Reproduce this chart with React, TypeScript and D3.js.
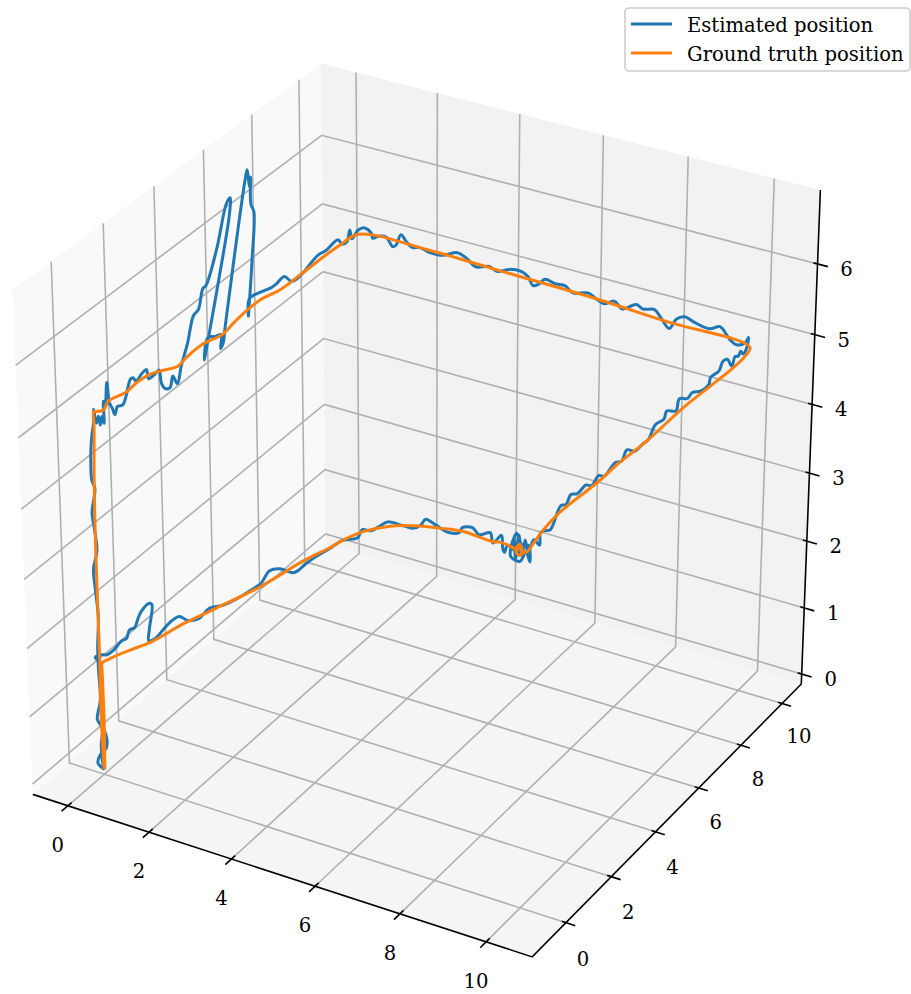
import React from 'react';
import * as d3 from 'd3';

type P3 = [number, number, number];

const WIDTH = 911;
const HEIGHT = 994;

const xTicks = [0, 2, 4, 6, 8, 10];
const yTicks = [0, 2, 4, 6, 8, 10];
const zTicks = [0, 1, 2, 3, 4, 5, 6];
const xLim: [number, number] = [-0.872, 11.06];
const yLim: [number, number] = [-1.457, 10.95];
const zLim: [number, number] = [-0.152, 7.03];
const seriesNames = ['Estimated position', 'Ground truth position'];

// estimated position, one block per leg of the flight
const estX = [
  -0.02, -0.15, -0.08, 0.07, 0.07, -0.06, -0.13, -0.04, -0.06, -0.06, -0.02, -0.07, -0.1, 0, -0.05, -0.09, 0, -0.07, -0.07, -0.03, 0.03,
  0.0, 0.01, 0.01, 0.01, 0.01, 0.02, 0.02, 0.02, 0.02, 0.03,
  0.03, 0.03, 0.04, 0.05, 0.05, 0.06, 0.06, 0.07, 0.08, 0.08,
  0.09, 0.1, 0.1, 0.11, 0.11, 0.12, 0.12, 0.13, 0.14, 0.15,
  0.16, 0.17, 0.17, 0.18, 0.2, 0.21, 0.22, 0.22, 0.2, 0.17,
  0.18, 0.19, 0.2, 0.2, 0.2, 0.21, 0.24, 0.24, 0.25, 0.25,
  0.25, 0.26, 0.25, 0.25, 0.25, 0.26, 0.28, 0.29, 0.31, 0.32,
  0.33, 0.34, 0.36, 0.38, 0.4, 0.4, 0.41, 0.42, 0.42, 0.43,
  0.6, 0.76, 0.8, 0.93, 1.14, 1.3, 1.39, 1.51, 1.64, 1.79,
  1.97, 2.22, 2.55, 2.92, 3.13, 3.38, 3.71, 3.92, 4.21, 4.5,
  4.67, 4.79, 4.92, 5.08, 5.33, 5.57, 5.77, 6.13, 6.33, 6.53,
  6.77, 6.97, 7.3, 7.46, 7.74, 7.9, 8.1, 8.26, 8.46, 8.7,
  9.06, 9.3, 9.54, 9.7, 9.9, 9.98,
  10.0, 9.99, 9.99, 9.99, 9.99, 9.99, 9.99, 9.99, 9.99, 9.98,
  9.98, 9.98, 9.97, 9.97, 9.97, 9.97, 9.96, 9.96, 9.96, 9.95,
  9.95, 9.95, 9.95, 9.94, 9.94, 9.94, 9.93, 9.93, 9.93, 9.92,
  9.92, 9.92, 9.92, 9.91, 9.91, 9.91, 9.91, 9.91,
  10.1, 10.03, 9.96, 9.89, 9.82, 9.78, 9.71, 9.92, 10.05, 10.14,
  10.1, 9.96, 9.84, 9.76, 9.92, 9.78, 9.64, 9.57, 9.53, 9.5,
  9.31, 9.25, 9.0, 8.85, 8.62, 8.55, 8.32, 8.02, 7.79, 7.68,
  7.52, 7.3, 6.92, 6.76, 6.53, 6.34, 6.23, 5.88, 5.57, 5.23,
  5.0, 4.83, 4.71, 4.4, 4.16, 3.95, 3.83, 3.35, 3.02, 2.7,
  2.45, 2.17, 1.97, 1.72, 1.35, 1.21, 1.23, 1.31, 1.25, 1.04,
  0.95, 0.87, 0.74, 0.66, 0.53, 0.32, 0.16, 0.04, -0.13, -0.01,
  -0.01, 0.03, -0.05, -0.04, 0,
];

const estY = [
  0, 0, 0, 0, 0, 0, 0, 0, 0, 0, 0, 0, 0, 0, 0, 0, 0, 0, 0, 0, 0,
  0.05, 0.12, 0.21, 0.27, 0.34, 0.4, 0.4, 0.46, 0.55, 0.61,
  0.71, 0.81, 0.9, 1.09, 1.21, 1.4, 1.5, 1.59, 1.84, 2.0,
  2.05, 2.27, 2.46, 2.52, 2.65, 2.84, 2.96, 3.12, 3.27, 3.53,
  3.77, 3.96, 4.15, 4.27, 4.7, 5.1, 5.24, 5.2, 4.73, 4.15,
  4.3, 4.59, 4.8, 4.77, 4.88, 4.96, 5.85, 5.92, 5.98, 6.03,
  6.03, 6.13, 6.04, 5.85, 5.91, 6.28, 6.75, 6.94, 7.27, 7.54,
  7.74, 8.07, 8.6, 8.93, 9.42, 9.59, 9.79, 9.9, 9.99, 10.25,
  10.24, 10.24, 10.24, 10.24, 10.23, 10.23, 10.22, 10.22, 10.22, 10.21,
  10.21, 10.2, 10.19, 10.18, 10.18, 10.17, 10.16, 10.16, 10.15, 10.14,
  10.14, 10.14, 10.13, 10.13, 10.12, 10.12, 10.11, 10.1, 10.1, 10.09,
  10.08, 10.08, 10.07, 10.07, 10.06, 10.05, 10.05, 10.05, 10.04, 10.03,
  10.02, 10.02, 10.01, 10.01, 10.0, 10.0,
  9.85, 9.74, 9.62, 9.51, 9.36, 9.21, 8.99, 8.78, 8.61, 8.24,
  8.16, 7.79, 7.42, 7.19, 6.82, 6.67, 6.27, 6.15, 5.77, 5.47,
  5.24, 4.87, 4.52, 4.31, 4.03, 3.54, 3.33, 3.01, 2.77, 2.42,
  2.14, 1.93, 1.71, 1.29, 1.08, 0.87, 0.84, 0.59,
  0, 0, 0, 0, 0, 0, 0, 0, 0, 0,
  0, 0, 0, 0, 0, 0, 0, 0, 0, 0,
  0, 0, 0, 0, 0, 0, 0, 0, 0, 0,
  0, 0, 0, 0, 0, 0, 0, 0, 0, 0,
  0, 0, 0, 0, 0, 0, 0, 0, 0, 0,
  0, 0, 0, 0, 0, 0, 0, 0, 0, 0,
  0, 0, 0, 0, 0, 0, 0, 0, 0, 0,
  0, 0, 0, 0, 0,
];

const estZ = [
  -0.07, -0.01, 0.13, 0.25, 0.46, 0.58, 0.65, 0.94, 1.43, 1.73, 2.17, 2.56, 2.85, 3.13, 3.46, 3.66, 4.02, 4.13, 4.52, 4.77, 4.99,
  5.12, 4.91, 4.98, 4.84, 4.94, 4.83, 5.14, 5.07, 5.36, 5.06,
  4.96, 4.84, 4.93, 4.9, 4.97, 5.18, 5.17, 5.1, 5.15, 5.15,
  5.01, 5.01, 5.02, 4.82, 4.71, 4.67, 4.8, 4.65, 4.86, 5.12,
  5.44, 5.48, 5.72, 5.74, 6.15, 6.67, 6.72, 6.5, 5.66, 4.71,
  4.99, 4.93, 4.9, 4.71, 4.76, 4.98, 6.86, 6.94, 6.69, 6.81,
  6.43, 6.3, 5.65, 4.89, 5.13, 5.11, 5.06, 5.06, 5.09, 4.95,
  4.93, 4.96, 5.05, 5.04, 5.07, 4.96, 4.95, 5.09, 4.94, 5.0,
  5.06, 5.01, 4.94, 4.99, 5.01, 4.9, 4.94, 5.11, 5.03, 4.97,
  5.0, 4.97, 4.98, 5.08, 5.04, 4.95, 5.01, 4.97, 5.05, 5.07,
  5.02, 4.91, 4.95, 5.05, 5.03, 5.04, 4.97, 5.03, 4.98, 4.94,
  5.02, 4.94, 5.06, 5.02, 5.06, 4.97, 4.85, 5.01, 5.08, 5.04,
  5.01, 5.08, 4.94, 4.89, 4.95, 5.04,
  4.91, 4.88, 4.95, 4.91, 4.95, 4.85, 5.01, 5.04, 4.95, 4.96,
  4.88, 4.89, 4.97, 4.95, 5.05, 4.92, 5.03, 4.95, 4.98, 4.85,
  4.86, 4.86, 4.98, 4.88, 4.94, 4.89, 4.96, 4.91, 4.99, 4.97,
  5.04, 4.96, 5.01, 4.8, 4.85, 4.88, 4.72, 4.87,
  4.89, 5.06, 4.83, 5.1, 4.77, 5.04, 4.78, 4.75, 4.9, 4.78,
  5.0, 4.98, 5.12, 4.94, 4.87, 4.88, 4.92, 4.81, 4.86, 5.03,
  4.89, 5.02, 4.95, 5.02, 4.98, 4.9, 4.86, 4.91, 4.95, 4.85,
  4.78, 4.77, 4.76, 4.68, 4.57, 4.55, 4.42, 4.32, 4.15, 3.97,
  3.83, 3.71, 3.66, 3.66, 3.59, 3.37, 3.3, 3.04, 2.89, 2.79,
  2.6, 2.52, 2.54, 2.4, 2.1, 2.05, 2.22, 2.59, 2.6, 2.44,
  2.31, 2.18, 2.12, 1.98, 1.92, 1.74, 1.65, 1.63, 1.56, 1.49,
  1.09, 0.65, 0.28, 0.06, -0.06,
];

// ground truth position
const truthX = [
  0, -0.03, -0.02, -0.03, -0.01, 0.03,
  0, 0.01, 0.02, 0.02, 0.05, 0.07, 0.09, 0.11, 0.13, 0.15, 0.17, 0.2, 0.22, 0.24, 0.27, 0.3, 0.33, 0.37, 0.4, 0.43,
  2.22, 3.96, 6.41, 8.02, 10.02,
  10.0, 9.99, 9.99, 9.97, 9.95, 9.94, 9.93, 9.92, 9.91, 9.9, 9.9,
  9.96, 9.9, 9.84, 9.93, 9.96, 9.9, 9.82, 9.85, 9.69, 9.46, 9.31, 8.62, 8.09, 7.64, 7.11, 6.72, 6.34, 5.96, 5.57, 4.96, 3.91, 2.86, 2.08, 1.26, 0.77, 0.3, 0.03,
  0.03, 0.04, 0.02,
];

const truthY = [
  0, 0, 0, 0, 0, 0,
  0.05, 0.12, 0.4, 0.59, 1.21, 1.65, 2.15, 2.65, 3.15, 3.46, 4.09, 4.84, 5.29, 5.75, 6.35, 7.14, 7.94, 8.86, 9.52, 10.25,
  10.2, 10.16, 10.09, 10.05, 10.0,
  9.82, 9.29, 8.54, 7.04, 5.39, 4.1, 3.33, 1.64, 0.94, 0.45, 0.31,
  0, 0, 0, 0, 0, 0, 0, 0, 0, 0, 0, 0, 0, 0, 0, 0, 0, 0, 0, 0, 0, 0, 0, 0, 0, 0, 0, 0,
  0, 0, 0,
];

const truthZ = [
  -0.05, 0.7, 1.5, 3.1, 4.2, 4.9,
  5.09, 5.07, 5.02, 5.09, 5.04, 5.07, 5.05, 4.97, 4.89, 4.93, 4.95, 4.89, 4.94, 4.98, 5.0, 4.94, 4.95, 4.97, 4.97, 4.94,
  5.0, 4.99, 4.98, 4.94, 4.91,
  4.83, 4.81, 4.83, 4.87, 4.85, 4.89, 4.88, 4.93, 4.88, 4.79, 4.78,
  4.88, 4.95, 4.85, 4.83, 4.93, 4.98, 4.88, 4.88, 4.92, 4.93, 4.91, 4.93, 4.88, 4.83, 4.74, 4.64, 4.52, 4.36, 4.16, 3.87, 3.31, 2.82, 2.46, 2.04, 1.84, 1.64, 1.5,
  1.42, 0.7, -0.05,
];

// default mplot3d camera: elev 30, azim -60, dist 10, unit cube stretched to the axes
const normX = d3.scaleLinear().domain(xLim).range([-0.5, 0.5]);
const normY = d3.scaleLinear().domain(yLim).range([-0.5, 0.5]);
const normZ = d3.scaleLinear().domain(zLim).range([-0.5, 0.5]);
const screenX = d3.scaleLinear().domain([0, 1]).range([423, 423 + 5765]);
const screenY = d3.scaleLinear().domain([0, 1]).range([495, 495 - 5760]);

const elev = (30 * Math.PI) / 180;
const azim = (-60 * Math.PI) / 180;
const dist = 10;
const w: P3 = [Math.cos(elev) * Math.cos(azim), Math.cos(elev) * Math.sin(azim), Math.sin(elev)];
const u: P3 = [-Math.sin(azim), Math.cos(azim), 0];
const v: P3 = [w[1] * u[2] - w[2] * u[1], w[2] * u[0] - w[0] * u[2], w[0] * u[1] - w[1] * u[0]];
const dot = (a: P3, b: P3) => a[0] * b[0] + a[1] * b[1] + a[2] * b[2];

const project = (p: P3): [number, number] => {
  const q: P3 = [normX(p[0]), normY(p[1]), normZ(p[2])];
  const d = dist - dot(q, w);
  return [screenX(dot(q, u) / d), screenY(dot(q, v) / d)];
};

const straight = d3.line();
const smooth = d3.line().curve(d3.curveCatmullRom.alpha(0.5));
const path3 = (pts: P3[]) => straight(pts.map(project)) as string;

const estimated = d3.zip(estX, estY, estZ) as P3[];
const truth = d3.zip(truthX, truthY, truthZ) as P3[];

const [x0, x1] = xLim;
const [y0, y1] = yLim;
const [z0, z1] = zLim;
const xSpan = x1 - x0;
const ySpan = y1 - y0;

const serif = '"DejaVu Serif", serif';
const gridColor = '#b0b0b0';
const labelSize = 19.6;

export default function App() {
  return (
    <svg
      width={WIDTH}
      height={HEIGHT}
      viewBox={`0 0 ${WIDTH} ${HEIGHT}`}
      style={{ position: 'absolute', left: 0, top: 0, background: '#fff' }}
      fontFamily={serif}
    >
      {/* panes */}
      <path d={path3([[x0, y0, z0], [x0, y1, z0], [x0, y1, z1], [x0, y0, z1]]) + 'Z'} fill="#f9f9f9" />
      <path d={path3([[x0, y1, z0], [x1, y1, z0], [x1, y1, z1], [x0, y1, z1]]) + 'Z'} fill="#f2f2f2" />
      <path d={path3([[x0, y0, z0], [x1, y0, z0], [x1, y1, z0], [x0, y1, z0]]) + 'Z'} fill="#f5f5f5" />

      {/* grid */}
      <g fill="none" stroke={gridColor} strokeWidth={1.6}>
        {xTicks.map((t) => (
          <path key={t} d={path3([[t, y0, z0], [t, y1, z0], [t, y1, z1]])} />
        ))}
        {yTicks.map((t) => (
          <path key={t} d={path3([[x1, t, z0], [x0, t, z0], [x0, t, z1]])} />
        ))}
        {zTicks.map((t) => (
          <path key={t} d={path3([[x0, y0, t], [x0, y1, t], [x1, y1, t]])} />
        ))}
      </g>

      {/* axis lines and ticks */}
      <g fill="none" stroke="#000" strokeWidth={1.6}>
        <path d={path3([[x0, y0, z0], [x1, y0, z0], [x1, y1, z0], [x1, y1, z1]])} />
        {xTicks.map((t) => (
          <path key={t} d={path3([[t, y0 + 0.012 * ySpan, z0], [t, y0 - 0.02 * ySpan, z0]])} />
        ))}
        {yTicks.map((t) => (
          <path key={t} d={path3([[x1 - 0.008 * xSpan, t, z0], [x1 + 0.018 * xSpan, t, z0]])} />
        ))}
        {zTicks.map((t) => (
          <path key={t} d={path3([[x1 - 0.008 * xSpan, y1, t], [x1 + 0.02 * xSpan, y1, t]])} />
        ))}
      </g>

      {/* tick labels */}
      <g fontSize={labelSize} fill="#000" textAnchor="middle" dominantBaseline="central">
        {xTicks.map((t) => {
          const [px, py] = project([t, y0, z0]);
          return (
            <text key={t} x={px - 10} y={py + 39.5}>
              {t}
            </text>
          );
        })}
        {yTicks.map((t) => {
          const [px, py] = project([x1, t, z0]);
          return (
            <text key={t} x={px + 17} y={py + 33 + (10 - t) * 0.4}>
              {t}
            </text>
          );
        })}
        {zTicks.map((t) => {
          const [px, py] = project([x1, y1, t]);
          return (
            <text key={t} x={px + 29} y={py + 5.5}>
              {t}
            </text>
          );
        })}
      </g>

      {/* series */}
      <g fill="none" strokeWidth={3} strokeLinejoin="round" strokeLinecap="square">
        <path d={smooth(estimated.map(project)) as string} stroke="#1f77b4" />
        <path d={smooth(truth.map(project)) as string} stroke="#ff7f0e" />
      </g>

      {/* legend */}
      <rect x={625} y={8} width={285} height={63} rx={4} fill="#fff" fillOpacity={0.8} stroke="#ccc" strokeWidth={1.6} />
      {seriesNames.map((name, i) => (
        <g key={name}>
          <line
            x1={631}
            x2={672}
            y1={24 + i * 29}
            y2={24 + i * 29}
            stroke={i === 0 ? '#1f77b4' : '#ff7f0e'}
            strokeWidth={3}
          />
          <text x={687} y={32 + i * 29} fontSize={labelSize} fill="#000">
            {name}
          </text>
        </g>
      ))}
    </svg>
  );
}
